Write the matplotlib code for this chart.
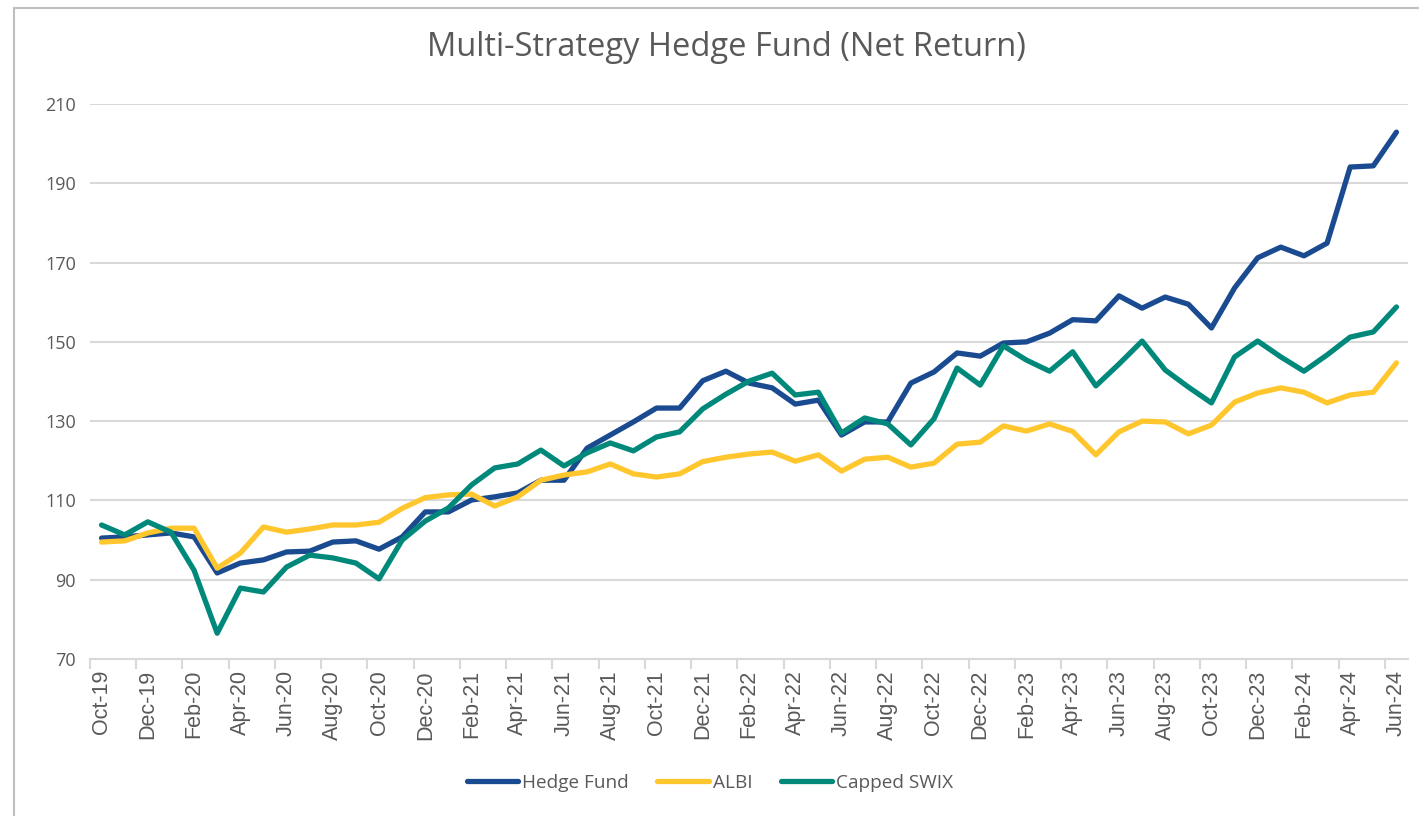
import numpy as np
import matplotlib
matplotlib.use('Agg')
import matplotlib.pyplot as plt
from matplotlib.patches import Rectangle

# Meses (datos mensuales)
meses = ['Oct-19', 'Nov-19', 'Dec-19', 'Jan-20', 'Feb-20', 'Mar-20', 'Apr-20', 'May-20', 'Jun-20',
         'Jul-20', 'Aug-20', 'Sep-20', 'Oct-20', 'Nov-20', 'Dec-20', 'Jan-21', 'Feb-21', 'Mar-21',
         'Apr-21', 'May-21', 'Jun-21', 'Jul-21', 'Aug-21', 'Sep-21', 'Oct-21', 'Nov-21', 'Dec-21',
         'Jan-22', 'Feb-22', 'Mar-22', 'Apr-22', 'May-22', 'Jun-22', 'Jul-22', 'Aug-22', 'Sep-22',
         'Oct-22', 'Nov-22', 'Dec-22', 'Jan-23', 'Feb-23', 'Mar-23', 'Apr-23', 'May-23', 'Jun-23',
         'Jul-23', 'Aug-23', 'Sep-23', 'Oct-23', 'Nov-23', 'Dec-23', 'Jan-24', 'Feb-24', 'Mar-24',
         'Apr-24', 'May-24', 'Jun-24']

hedge_fund = [100.5, 100.8, 101.3, 101.8, 100.8, 91.7, 94.2, 95.0, 97.0, 97.2, 99.5, 99.8, 97.7,
              100.8, 107.1, 107.1, 110.1, 110.9, 111.9, 115.1, 115.1, 123.2, 126.5, 129.8, 133.3,
              133.3, 140.2, 142.6, 139.6, 138.4, 134.3, 135.3, 126.5, 129.8, 129.8, 139.6, 142.4,
              147.2, 146.4, 149.7, 150.0, 152.2, 155.6, 155.3, 161.6, 158.5, 161.3, 159.5, 153.5,
              163.6, 171.2, 173.9, 171.7, 174.9, 194.1, 194.4, 202.9]

albi = [99.5, 99.8, 101.8, 103.0, 103.0, 92.9, 96.7, 103.3, 102.0, 102.8, 103.8, 103.8, 104.5,
        108.0, 110.7, 111.4, 111.6, 108.6, 110.9, 115.1, 116.4, 117.2, 119.2, 116.7, 115.9,
        116.7, 119.8, 120.9, 121.7, 122.2, 119.9, 121.5, 117.4, 120.4, 120.9, 118.4, 119.4,
        124.2, 124.7, 128.8, 127.5, 129.3, 127.4, 121.5, 127.3, 130.0, 129.8, 126.8, 129.0,
        134.8, 137.1, 138.4, 137.3, 134.6, 136.6, 137.3, 144.7]

capped_swix = [103.8, 101.3, 104.6, 102.0, 92.4, 76.5, 87.9, 86.9, 93.2, 96.2, 95.5, 94.2, 90.2,
               100.0, 104.8, 108.1, 113.9, 118.2, 119.2, 122.7, 118.7, 122.0, 124.5, 122.5, 126.0,
               127.3, 133.1, 136.8, 140.1, 142.1, 136.6, 137.3, 127.0, 130.8, 129.3, 124.0, 130.6,
               143.4, 139.1, 149.0, 145.4, 142.6, 147.5, 138.9, 144.4, 150.2, 142.9, 138.6, 134.6,
               146.2, 150.2, 146.2, 142.6, 146.7, 151.2, 152.5, 158.8]

y_ticks = [70, 90, 110, 130, 150, 170, 190, 210]

#%% Grafico
gris = '#595959'
fig = plt.figure(figsize=(14.19, 8.16), dpi=100)
ax = fig.add_axes([90/1419, 1 - 659/816, 1318/1419, 555/816])

x = np.arange(len(meses))
ax.plot(x, hedge_fund, color='#1A4A90', lw=3.8, solid_capstyle='round', solid_joinstyle='round', label='Hedge Fund', zorder=3)
ax.plot(x, albi, color='#FFC62E', lw=3.8, solid_capstyle='round', solid_joinstyle='round', label='ALBI', zorder=3)
ax.plot(x, capped_swix, color='#00897B', lw=3.8, solid_capstyle='round', solid_joinstyle='round', label='Capped SWIX', zorder=3)

ax.set_xlim(-0.5, len(meses) - 0.5)
ax.set_ylim(70, 210)
ax.set_yticks(y_ticks)
ax.set_yticklabels([str(v) for v in y_ticks], fontsize=13, color=gris, family=['Open Sans', 'DejaVu Sans'])
ax.grid(axis='y', color='#D9D9D9', lw=1.5, zorder=0)
ax.tick_params(axis='y', length=0, pad=10)

# etiquetas cada dos meses, marcas entre categorias
ax.set_xticks(x[::2])
ax.set_xticklabels(meses[::2], rotation=90, fontsize=15.5, color=gris, family=['Liberation Sans', 'DejaVu Sans'])
ax.tick_params(axis='x', length=0, pad=8)
ax.set_xticks(np.arange(-0.5, len(meses), 2), minor=True)
ax.tick_params(axis='x', which='minor', length=7, color='#D9D9D9', width=1.5)

for s in ['top', 'right', 'left']:
    ax.spines[s].set_visible(False)
ax.spines['bottom'].set_color('#D9D9D9')
ax.spines['bottom'].set_linewidth(1.5)

fig.text(726/1419, 1 - 48/816, 'Multi-Strategy Hedge Fund (Net Return)', ha='center', va='center',
         fontsize=23.5, color=gris, family=['Open Sans', 'DejaVu Sans'])

leg = fig.legend(loc='center', bbox_to_anchor=(710/1419, 1 - 783/816), ncol=3, frameon=False,
                 handlelength=2.7, handletextpad=0.2, columnspacing=1.5,
                 prop={'family': 'Open Sans', 'size': 13.7})
for t in leg.get_texts():
    t.set_color(gris)

# borde del area del grafico
fig.add_artist(Rectangle((14/1419, -0.05), 1.1, 1.05 - 8/816, transform=fig.transFigure,
                         fill=False, edgecolor='#BFBFBF', lw=1.5))

fig.savefig('out.png', dpi=100)
